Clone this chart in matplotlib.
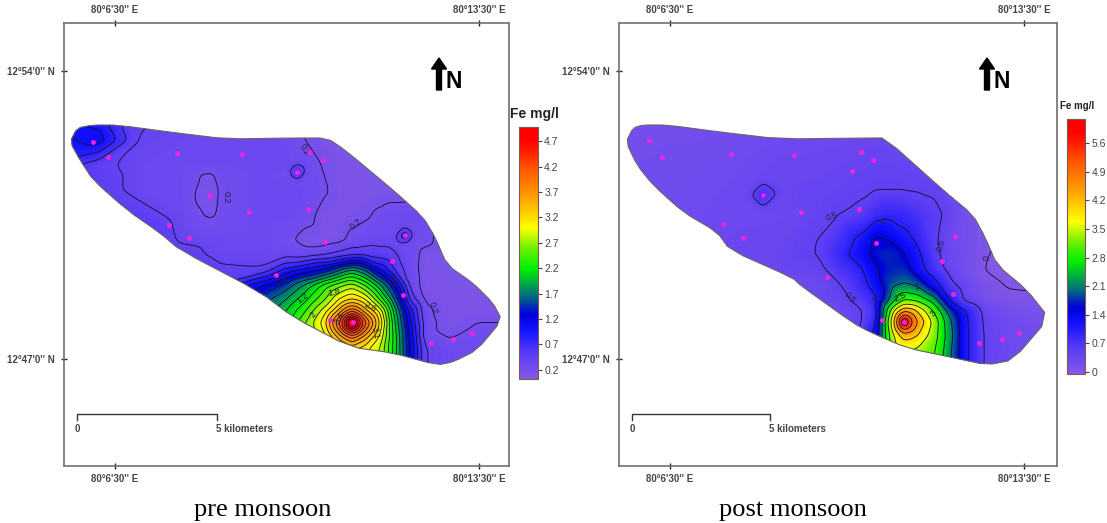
#!/usr/bin/env python3
"""Fe concentration maps, pre and post monsoon. Map coordinates are image pixels."""

import matplotlib

matplotlib.use("Agg")
import matplotlib.pyplot as plt
import matplotlib.tri as mtri
import numpy as np
from matplotlib.cm import ScalarMappable
from matplotlib.colors import LinearSegmentedColormap, Normalize
from matplotlib.patches import FancyArrow, Polygon

W, H = 1107, 523

# outline of the study area
pre_outline = [(70, 142), (77, 128), (93, 125), (117, 125), (177, 133), (227, 139), (293, 138),
               (327, 138), (345, 150), (393, 190), (423, 217), (435, 237), (447, 265), (473, 283),
               (493, 303), (502, 320), (477, 350), (453, 362), (437, 365), (393, 353), (350, 347),
               (293, 317), (260, 292), (180, 250), (160, 233), (127, 210), (93, 180), (80, 160)]
post_outline = [(626, 142), (633, 128), (643, 125), (667, 125), (720, 132), (780, 139), (870, 138),
                (885, 138), (943, 190), (973, 215), (985, 237), (997, 265), (1027, 290), (1049, 318),
                (1013, 360), (987, 365), (950, 357), (907, 348), (870, 332), (853, 323), (800, 285),
                (793, 278), (730, 250), (717, 232), (683, 212), (653, 185), (637, 165)]

# sampling stations
pre_sx = [93, 108, 177, 242, 210, 249, 308, 169, 189, 276, 310, 297, 323, 325, 405, 392, 403, 330, 353, 431, 453, 472]
pre_sy = [142, 157, 153, 154, 195, 212, 209, 225, 238, 275, 152, 172, 160, 242, 235, 261, 295, 320, 322, 343, 339, 333]
post_sx = [649, 662, 731, 794, 861, 852, 763, 801, 859, 723, 743, 827, 873, 876, 955, 942, 953, 882, 904, 979, 1002, 1019]
post_sy = [140, 157, 154, 155, 152, 171, 195, 212, 209, 224, 238, 277, 160, 243, 236, 261, 294, 320, 322, 343, 339, 333]

# Fe mg/l on a loose grid
pre_x = [60, 100, 140, 180, 220, 260, 285, 305, 325, 340, 352, 365, 380, 395, 410, 425, 450, 480, 510]
pre_y = [115, 140, 165, 190, 215, 240, 255, 270, 285, 300, 312, 323, 335, 350, 375]
pre_z = [
    [.95, .85, .44, .33, .32, .32, .30, .14, .10, .10, .10, .10, .10, .10, .10, .10, .10, .10, .10],
    [.95, 1.1, .38, .33, .32, .32, .30, .20, .12, .10, .10, .10, .10, .10, .10, .10, .10, .10, .10],
    [.70, .45, .33, .32, .30, .32, .32, .30, .18, .10, .10, .10, .10, .10, .10, .10, .10, .10, .10],
    [.70, .50, .32, .31, .22, .32, .32, .30, .22, .13, .10, .10, .10, .10, .10, .10, .10, .10, .10],
    [.70, .60, .50, .33, .25, .32, .32, .28, .12, .12, .14, .17, .24, .30, .33, .30, .10, .10, .10],
    [.90, .80, .65, .37, .32, .32, .25, .12, .10, .14, .25, .30, .32, .33, .30, .25, .10, .10, .10],
    [.90, .80, .70, .50, .33, .33, .33, .30, .38, .48, .55, .55, .50, .42, .30, .14, .10, .10, .10],
    [1.0, 1.0, .90, .70, .45, .42, .85, 1.05, 1.25, 1.6, 1.85, 1.6, 1.0, .55, .30, .12, .10, .10, .10],
    [1.0, 1.0, 1.0, .90, .60, 1.15, 1.45, 1.85, 2.3, 2.55, 2.7, 2.4, 1.85, 1.2, .34, .12, .10, .10, .10],
    [1.2, 1.2, 1.2, 1.1, .90, 1.5, 1.8, 2.15, 2.6, 3.05, 3.25, 3.05, 2.4, 1.6, .55, .17, .10, .10, .10],
    [1.3, 1.3, 1.3, 1.3, 1.2, 1.6, 2.0, 2.4, 2.95, 3.55, 4.05, 3.55, 3.0, 1.9, .95, .25, .10, .10, .10],
    [1.4, 1.4, 1.4, 1.4, 1.4, 1.7, 2.1, 2.6, 3.15, 4.1, 6.0, 4.1, 3.2, 2.0, 1.05, .30, .10, .21, .21],
    [1.4, 1.4, 1.4, 1.4, 1.4, 1.8, 2.2, 2.7, 2.95, 3.6, 4.05, 3.6, 3.0, 2.1, 1.15, .27, .17, .27, .27],
    [1.5, 1.5, 1.5, 1.5, 1.5, 1.9, 2.3, 2.6, 2.8, 3.05, 3.2, 3.05, 2.8, 2.1, 1.2, .40, .30, .30, .30],
    [1.5, 1.5, 1.5, 1.5, 1.5, 1.9, 2.3, 2.5, 2.7, 2.9, 3.0, 2.9, 2.7, 2.0, 1.2, .40, .30, .30, .30],
]
pre_extra_x = [297, 287, 307, 297, 297, 405, 395, 415, 405, 405, 208, 210, 212, 346, 358, 352, 352]
pre_extra_y = [172, 172, 172, 162, 182, 235, 235, 235, 225, 245, 195, 178, 208, 323, 323, 317, 329]
pre_extra_z = [.85, .28, .28, .28, .28, .95, .28, .28, .28, .28, .10, .14, .14, 4.7, 4.7, 4.7, 4.7]

post_x = [615, 660, 700, 740, 780, 820, 840, 860, 875, 890, 904, 918, 935, 950, 965, 985, 1010, 1050]
post_y = [115, 140, 165, 190, 215, 240, 255, 270, 285, 300, 312, 322, 335, 350, 375]
post_z = [
    [.22, .22, .22, .25, .28, .30, .30, .32, .32, .30, .28, .25, .20, .15, .10, .05, .03, .02],
    [.22, .22, .22, .26, .30, .32, .33, .35, .37, .36, .33, .30, .25, .20, .13, .07, .04, .02],
    [.22, .23, .25, .30, .36, .36, .38, .40, .42, .42, .40, .37, .32, .26, .16, .09, .05, .02],
    [.22, .24, .28, .32, .38, .40, .42, .46, .49, .49, .49, .48, .45, .35, .20, .10, .05, .02],
    [.25, .27, .30, .33, .33, .42, .50, .56, .80, .90, .85, .72, .60, .40, .20, .08, .03, -.04],
    [.28, .30, .32, .35, .36, .51, .75, 1.1, 1.6, 1.5, 1.15, .90, .55, .30, .20, .05, -.08, -.10],
    [.30, .32, .34, .36, .38, .52, .85, 1.25, 1.65, 1.75, 1.55, 1.1, .58, .35, .22, .02, -.10, -.10],
    [.30, .30, .32, .35, .38, .42, .68, .90, 1.4, 1.7, 1.75, 1.2, .72, .38, .20, -.01, -.08, -.10],
    [.30, .30, .30, .30, .30, .30, .48, .80, 1.2, 1.85, 2.05, 1.9, 1.15, .60, .35, .12, -.03, -.06],
    [.30, .30, .30, .30, .30, .35, .40, .60, .85, 2.05, 3.0, 2.85, 2.2, .95, .42, .15, .08, .05],
    [.30, .30, .30, .30, .30, .30, .30, .45, .72, 3.0, 4.7, 4.0, 2.95, 1.8, 1.05, .40, .20, .10],
    [.30, .30, .30, .30, .30, .30, .30, .45, .85, 3.4, 7.0, 4.5, 3.3, 2.1, 1.1, .42, .25, .15],
    [.30, .30, .30, .30, .30, .30, .30, .50, 1.1, 3.1, 4.3, 4.0, 3.2, 2.2, 1.1, .45, .28, .20],
    [.30, .30, .30, .30, .30, .30, .40, .70, 1.5, 3.0, 3.5, 3.4, 3.05, 2.1, 1.1, .45, .30, .25],
    [.30, .30, .30, .30, .30, .30, .40, .70, 1.5, 2.9, 3.3, 3.2, 2.9, 2.0, 1.1, .45, .30, .25],
]
post_extra_x = [763, 745, 781, 763, 763, 911, 897, 904, 904, 911, 897, 911, 897]
post_extra_y = [195, 195, 195, 177, 213, 322, 322, 316, 329, 315, 315, 329, 329]
post_extra_z = [.85, .33, .36, .34, .33, 5.2, 4.6, 5.4, 5.3, 4.8, 4.3, 4.8, 4.3]

pre_levels = [0.2 * i for i in range(1, 25)]
post_levels = [0.5 * i for i in range(0, 13)]

pre_ticks = [0.2, 0.7, 1.2, 1.7, 2.2, 2.7, 3.2, 3.7, 4.2, 4.7]
post_ticks = [0, 0.7, 1.4, 2.1, 2.8, 3.5, 4.2, 4.9, 5.6]

pre_labels = [(305, 150, "0.2", -65), (226, 197, "0.2", -90), (356, 224, "0.2", 40), (282, 280, "0.6", 25),
              (392, 281, "0.6", -60), (433, 308, "0.2", -70), (303, 298, "1.2", 40), (334, 292, "1.8", 10),
              (313, 314, "2", 50), (370, 307, "2.6", -30), (340, 318, "3.4", 60), (375, 333, "3.1", -80)]
post_labels = [(832, 217, "0.5", 20), (883, 221, "1", 0), (941, 245, "0.5", 75), (987, 258, "0", 80),
               (850, 298, "0.5", -45), (874, 298, "1", -60), (917, 287, "2", 30), (900, 297, "2.5", 25),
               (933, 313, "3", 50)]

fe_cmap = LinearSegmentedColormap.from_list("fe", [
    (0.00, "#8458e6"), (0.10, "#5a3cf5"), (0.20, "#1010ff"), (0.26, "#0000d8"), (0.33, "#00707a"),
    (0.44, "#00f000"), (0.52, "#70f000"), (0.60, "#ffff00"), (0.72, "#ffa000"), (0.82, "#ff6000"),
    (0.95, "#ff0000"), (1.00, "#ff0000")])

GREY = "#444444"
SANS = "Liberation Sans"


def smooth(outline):
    # one round of corner cutting so the boundary does not look like a polygon
    pts = np.asarray(outline, dtype=float)
    nxt = np.roll(pts, -1, axis=0)
    return np.column_stack([0.8 * pts + 0.2 * nxt, 0.2 * pts + 0.8 * nxt]).reshape(-1, 2)


def blur(field, sigma=3.0):
    radius = int(3 * sigma)
    kernel = np.exp(-0.5 * (np.arange(-radius, radius + 1) / sigma) ** 2)
    kernel /= kernel.sum()
    padded = np.pad(field, radius, mode="edge")
    out = np.apply_along_axis(np.convolve, 0, padded, kernel, mode="same")
    out = np.apply_along_axis(np.convolve, 1, out, kernel, mode="same")
    return out[radius:-radius, radius:-radius]


def map_axes(fig, left, right, xticks):
    ax = fig.add_axes([left / W, 1 - 466 / H, (right - left) / W, 443 / H])
    ax.set_xlim(left, right)
    ax.set_ylim(466, 23)
    ax.set_xticks(xticks, ["80°6'30'' E", "80°13'30'' E"], fontsize=7, fontweight="bold",
                  color=GREY, family=SANS)
    ax.set_yticks([71, 359], ["12°54'0'' N", "12°47'0'' N"], fontsize=7, fontweight="bold",
                  color=GREY, family=SANS)
    ax.tick_params(top=True, labeltop=True, bottom=True, direction="inout", length=5,
                   width=1, color="#222222", pad=3)
    ax.tick_params(axis="y", pad=4)
    for spine in ax.spines.values():
        spine.set_color("#707070")
        spine.set_linewidth(1.2)
    return ax


def draw_field(ax, outline, gx, gy, gz, ex, ey, ez, levels, norm):
    xx, yy = np.meshgrid(gx, gy)
    x = np.concatenate([xx.ravel(), ex])
    y = np.concatenate([yy.ravel(), ey])
    z = np.concatenate([np.asarray(gz, dtype=float).ravel(), ez])
    interp = mtri.LinearTriInterpolator(mtri.Triangulation(x, y), z)
    fine_x, fine_y = np.meshgrid(np.arange(gx[0], gx[-1] + 1.0), np.arange(gy[0], gy[-1] + 1.0))
    fine_z = blur(np.ma.filled(interp(fine_x, fine_y), 0.2))

    patch = Polygon(smooth(outline), closed=True, facecolor="none", edgecolor="#666666",
                    linewidth=0.8, zorder=4)
    ax.add_patch(patch)
    fill_levels = np.linspace(norm.vmin, norm.vmax, 160)
    filled = ax.contourf(fine_x, fine_y, fine_z, levels=fill_levels, cmap=fe_cmap, norm=norm,
                         extend="both", zorder=1)
    filled.set_edgecolor("face")
    filled.set_linewidth(0.2)
    filled.set_clip_path(patch)
    lines = ax.contour(fine_x, fine_y, fine_z, levels=levels, colors="#101030", linewidths=0.6, zorder=2)
    lines.set_clip_path(patch)


def decorate(ax, arrow_x, bar_x0, bar_x1, sx, sy, labels):
    ax.scatter(sx, sy, s=12, color="#ff20e0", linewidths=0, zorder=5)
    for x, y, text, rot in labels:
        ax.text(x, y, text, fontsize=6.5, color="#222244", rotation=rot, ha="center", va="center",
                family=SANS, zorder=3)

    ax.add_patch(FancyArrow(arrow_x, 90, 0, -32, width=5, head_width=15, head_length=11,
                            length_includes_head=True, color="black", zorder=5))
    ax.text(arrow_x + 15, 81, "N", fontsize=16.5, fontweight="bold", family=SANS, ha="center",
            va="center", color="black")

    ax.plot([bar_x0, bar_x0, bar_x1, bar_x1], [420, 414, 414, 420], color="#333333", linewidth=1)
    ax.text(bar_x0, 429, "0", fontsize=7, fontweight="bold", color=GREY, family=SANS, ha="center", va="center")
    ax.text(bar_x1 - 1, 429, "5 kilometers", fontsize=7, fontweight="bold", color=GREY, family=SANS,
            ha="left", va="center")


def legend_bar(fig, left, right, top, bottom, norm, ticks):
    cax = fig.add_axes([left / W, 1 - bottom / H, (right - left) / W, (bottom - top) / H])
    bar = fig.colorbar(ScalarMappable(norm=norm, cmap=fe_cmap), cax=cax)
    bar.set_ticks(ticks, labels=[str(t) for t in ticks])
    bar.ax.tick_params(labelsize=7.5, length=3, width=0.8, color=GREY, labelcolor=GREY, pad=1.5)
    bar.outline.set_edgecolor("#7a5a50")
    bar.outline.set_linewidth(0.8)
    for label in bar.ax.get_yticklabels():
        label.set_family(SANS)


def main():
    fig = plt.figure(figsize=(W / 100, H / 100), dpi=100)

    pre_norm = Normalize(0.02, 4.98)
    post_norm = Normalize(-0.05, 6.19)

    ax = map_axes(fig, 64, 509, [115, 479])
    draw_field(ax, pre_outline, pre_x, pre_y, pre_z, pre_extra_x, pre_extra_y, pre_extra_z, pre_levels, pre_norm)
    decorate(ax, 439, 77, 217, pre_sx, pre_sy, pre_labels)
    legend_bar(fig, 519, 538, 127, 379, pre_norm, pre_ticks)

    ax = map_axes(fig, 619, 1057, [670, 1024])
    draw_field(ax, post_outline, post_x, post_y, post_z, post_extra_x, post_extra_y, post_extra_z, post_levels, post_norm)
    decorate(ax, 987, 632, 770, post_sx, post_sy, post_labels)
    legend_bar(fig, 1067, 1085, 119, 374, post_norm, post_ticks)

    fig.text(534 / W, 1 - 114 / H, "Fe mg/l", fontsize=10, fontweight="bold", family=SANS,
             ha="center", va="center", color="#222222")
    fig.text(1077 / W, 1 - 106 / H, "Fe mg/l", fontsize=7, fontweight="bold", family=SANS,
             ha="center", va="center", color="#222222")
    fig.text(263 / W, 1 - 510 / H, "pre monsoon", fontsize=19, family="Liberation Serif",
             ha="center", va="center")
    fig.text(793 / W, 1 - 510 / H, "post monsoon", fontsize=19, family="Liberation Serif",
             ha="center", va="center")

    fig.savefig("out.png", dpi=100)


if __name__ == "__main__":
    main()
